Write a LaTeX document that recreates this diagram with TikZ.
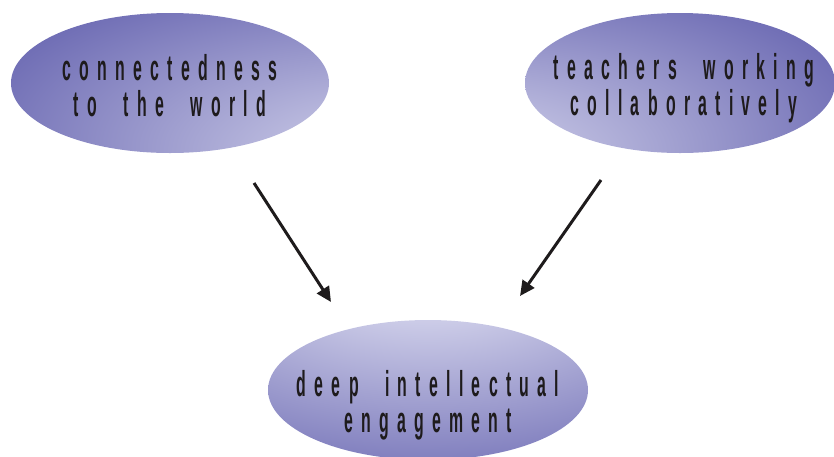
\documentclass[tikz,border=0pt]{standalone}
\usepackage{fontspec}
\usepackage{tikz}
\usetikzlibrary{positioning,shapes.geometric,arrows.meta}

\newfontfamily\ovalfont[FakeStretch=0.44,LetterSpace=23,WordSpace=2.1]{Liberation Sans}
\definecolor{ovaldark}{RGB}{106,104,178}
\definecolor{ovallight}{RGB}{212,212,236}
\definecolor{inkblack}{RGB}{30,27,28}

\pgfdeclareradialshading{glowright}{\pgfpoint{45bp}{-35bp}}{color(0bp)=(white); color(8bp)=(ovallight); color(55bp)=(ovaldark); color(100bp)=(ovaldark)}
\pgfdeclareradialshading{glowleft}{\pgfpoint{-45bp}{-35bp}}{color(0bp)=(white); color(8bp)=(ovallight); color(55bp)=(ovaldark); color(100bp)=(ovaldark)}
\pgfdeclareradialshading{glowtop}{\pgfpoint{0bp}{48bp}}{color(0bp)=(white); color(12bp)=(ovallight); color(60bp)=(ovaldark); color(100bp)=(ovaldark)}

\tikzset{
  oval/.style={ellipse,inner sep=0pt,outer sep=0pt,minimum width=318pt,minimum height=140pt},
  ovaltext/.style={align=center,text=inkblack,inner sep=0pt,font={\ovalfont\bfseries\fontsize{36}{36}\selectfont}},
  flow/.style={-{Triangle[length=15pt,width=14pt]},line width=3pt,draw=inkblack}
}

\begin{document}
\begin{tikzpicture}[x=1pt,y=-1pt]
              \useasboundingbox (0,0) rectangle (834,456);

              \node[oval,shading=glowright] (w) at (170,83) {};
              \node[oval,shading=glowleft,minimum width=310pt,right=196pt of w] (t) {};
              \node[oval,shading=glowtop,minimum width=320pt] (c) at (428,390) {};

              \node[ovaltext] (wl) at ([yshift=-3pt]w.center) {connectedness\\to the world};
              \node[ovaltext] (tl) at ([xshift=4pt,yshift=-5pt]t.center) {teachers working\\collaboratively};
              \node[ovaltext] (cl) at ([yshift=-15pt]c.center) {deep intellectual\\engagement};

              %w>c
              \coordinate (w-out) at (254,183);
              \coordinate (c-inw) at (331,302);
              \draw[flow] (w-out) -- (c-inw);

              %t>c
              \coordinate (t-out) at (601,180);
              \coordinate (c-int) at (520,296);
              \draw[flow] (t-out) -- (c-int);
            \end{tikzpicture}
\end{document}
